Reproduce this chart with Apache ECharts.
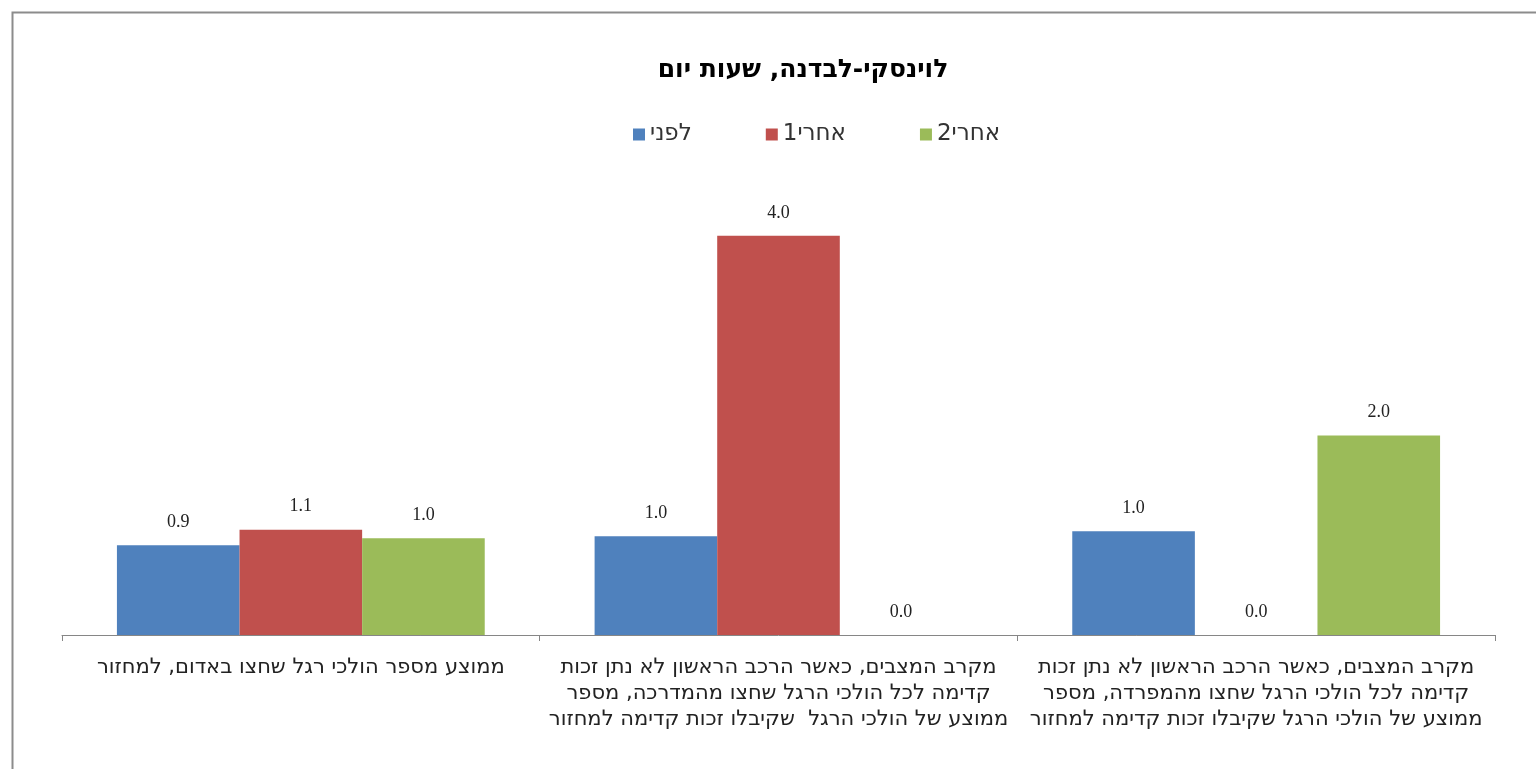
<!DOCTYPE html>
<html>
<head>
<meta charset="utf-8">
<script src="https://cdn.jsdelivr.net/npm/echarts@6/dist/echarts.min.js"></script>
<style>
  html, body { margin: 0; padding: 0; background: #fff; }
  #chart { width: 1536px; height: 769px; }
</style>
</head>
<body>
<div id="chart"></div>
<script>
// נתונים
const categories = [
  'ממוצע מספר הולכי רגל שחצו באדום, למחזור',
  'מקרב המצבים, כאשר הרכב הראשון לא נתן זכות\nקדימה לכל הולכי הרגל שחצו מהמדרכה, מספר\nממוצע של הולכי הרגל  שקיבלו זכות קדימה למחזור',
  'מקרב המצבים, כאשר הרכב הראשון לא נתן זכות\nקדימה לכל הולכי הרגל שחצו מהמפרדה, מספר\nממוצע של הולכי הרגל שקיבלו זכות קדימה למחזור'
]
const seriesNames = ['לפני', 'אחרי1', 'אחרי2']
const before = [0.9, 0.99, 1.04]
const after1 = [1.055, 4.0, 0.0]
const after2 = [0.97, 0.0, 2.0]
const colors = ['#4f81bd', '#c0504d', '#9bbb59']

const chart = echarts.init(document.getElementById('chart'))

const labelStyle = {
  show: true,
  position: 'top',
  distance: 14,
  fontFamily: 'Liberation Serif, serif',
  fontSize: 18,
  color: '#222',
  formatter: p => Number(p.value).toFixed(1)
}

const makeSeries = (name, data, idx) => ({
  name: name,
  type: 'bar',
  data: data,
  barGap: '0%',
  barCategoryGap: '23%',
  itemStyle: { color: colors[idx] },
  label: labelStyle
})

const option = {
  backgroundColor: '#fff',
  animation: false,
  textStyle: { fontFamily: 'DejaVu Sans, Liberation Sans, sans-serif' },
  title: {
    text: 'לוינסקי-לבדנה, שעות יום',
    left: 798,
    top: 53,
    textAlign: 'center',
    textStyle: {
      fontSize: 25,
      fontWeight: 'bold',
      color: '#000',
      fontFamily: 'DejaVu Sans, Liberation Sans, sans-serif'
    }
  },
  legend: {
    data: seriesNames,
    left: 628,
    top: 118,
    itemWidth: 12,
    itemHeight: 12,
    itemGap: 74,
    icon: 'rect',
    textStyle: { fontSize: 23, color: '#333' }
  },
  grid: {
    left: 62,
    right: 41,
    top: 136,
    bottom: 134
  },
  xAxis: {
    type: 'category',
    data: categories,
    axisLine: { lineStyle: { color: '#868686', width: 1 } },
    axisTick: { show: true, length: 6, lineStyle: { color: '#868686' } },
    axisLabel: {
      interval: 0,
      margin: 20,
      fontSize: 21,
      lineHeight: 26,
      color: '#222',
      align: 'center'
    }
  },
  yAxis: {
    type: 'value',
    min: 0,
    max: 5,
    show: false,
    splitLine: { show: false }
  },
  series: [
    makeSeries(seriesNames[0], before, 0),
    makeSeries(seriesNames[1], after1, 1),
    makeSeries(seriesNames[2], after2, 2)
  ],
  graphic: [
    {
      type: 'rect',
      left: 10,
      top: 10,
      shape: { width: 1600, height: 800 },
      style: { fill: 'none', stroke: '#8c8c8c', lineWidth: 2 },
      silent: true
    }
  ]
}

chart.setOption(option)
</script>
</body>
</html>
